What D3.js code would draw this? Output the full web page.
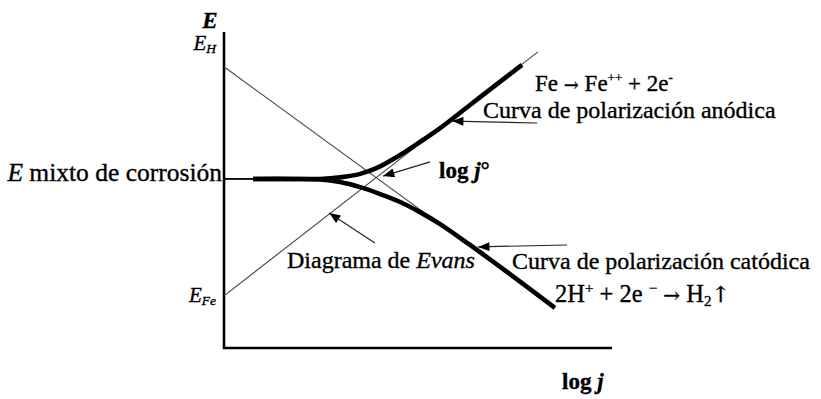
<!DOCTYPE html>
<html><head><meta charset="utf-8">
<script src="https://cdn.jsdelivr.net/npm/d3@7"></script>
<style>
body{margin:0;background:#fff}
text{font-family:"Liberation Serif","Times New Roman",serif;fill:#000;stroke:#000;stroke-width:0.35px}
.arrowglyph{font-family:"DejaVu Serif",serif}
</style>
</head><body>
<svg id="chart" width="821" height="399"></svg>
<script>
// Potential levels marked on the E axis
const potentialNames = ["E_H", "E_Fe", "E_mix"];
const potentialValues = [8.9, 1.65, 5.35];

// Evans diagram: straight Tafel lines, [log j, E]
const evansAnodic = [[0, 1.65], [8.09, 9.37]];
const evansCathodic = [[0, 8.9], [8.53, 1.27]];

// Real polarization curves, [log j, E]
const commonBranch = [[0, 5.35], [0.75, 5.35]];
const anodicCurve = [[0.75, 5.35], [1.8, 5.35], [2.47, 5.35], [2.99, 5.40], [3.51, 5.51], [3.94, 5.70],
  [4.54, 6.11], [5.05, 6.52], [5.57, 6.96], [6.34, 7.69], [7.11, 8.42], [7.68, 8.96]];
const cathodicCurve = [[0.75, 5.35], [1.8, 5.35], [2.47, 5.33], [2.99, 5.25], [3.51, 5.09], [3.94, 4.91],
  [4.54, 4.62], [5.05, 4.30], [5.57, 3.92], [6.34, 3.26], [7.37, 2.34], [8.53, 1.27]];

// Pointer arrows: [from, to] in [log j, E]
const arrowAnodic = [[8.07, 7.12], [5.88, 7.18]];
const arrowCathodic = [[8.84, 3.26], [6.55, 3.20]];
const arrowEvans = [[3.89, 3.32], [2.71, 4.27]];
const arrowExchange = [[5.31, 5.89], [4.10, 5.44]];

const svg = d3.select("#chart");
const x = d3.scaleLinear().domain([0, 10]).range([224, 612]);
const y = d3.scaleLinear().domain([0, 10]).range([348, 32]);
const E = name => potentialValues[potentialNames.indexOf(name)];

svg.append("defs").append("marker")
  .attr("id", "head").attr("viewBox", "0 0 10 8")
  .attr("refX", 10).attr("refY", 4)
  .attr("markerWidth", 12).attr("markerHeight", 9)
  .attr("markerUnits", "userSpaceOnUse").attr("orient", "auto")
  .append("path").attr("d", "M0,0 L10,4 L0,8 Z").attr("fill", "#000");

// Axes: a bare L frame, no ticks
svg.append("path")
  .attr("d", `M${x(0)},${y(10)} L${x(0)},${y(0)} L${x(10)},${y(0)}`)
  .attr("fill", "none").attr("stroke", "#000").attr("stroke-width", 2.6);

const line = d3.line().x(d => x(d[0])).y(d => y(d[1]));
const smooth = d3.line().x(d => x(d[0])).y(d => y(d[1])).curve(d3.curveCatmullRom.alpha(0.5));

// Evans lines
[evansAnodic, evansCathodic].forEach(pts => {
  svg.append("path").attr("d", line(pts))
    .attr("fill", "none").attr("stroke", "#444").attr("stroke-width", 1.1);
});

// Mixed-potential branch before the split
svg.append("path").attr("d", line(commonBranch))
  .attr("fill", "none").attr("stroke", "#000").attr("stroke-width", 1.8);

// Polarization curves
[anodicCurve, cathodicCurve].forEach(pts => {
  svg.append("path").attr("d", smooth(pts))
    .attr("fill", "none").attr("stroke", "#000").attr("stroke-width", 4.6)
    .attr("stroke-linejoin", "round");
});

// Pointers
[arrowAnodic, arrowCathodic, arrowEvans, arrowExchange].forEach(pts => {
  svg.append("path").attr("d", line(pts))
    .attr("fill", "none").attr("stroke", "#222").attr("stroke-width", 1.2)
    .attr("marker-end", "url(#head)");
});

// Axis titles
svg.append("text").attr("x", x(0) - 14).attr("y", 28).attr("text-anchor", "middle")
  .attr("font-size", 23).attr("font-weight", "bold").attr("font-style", "italic").text("E");

const logj = svg.append("text").attr("x", 562).attr("y", 389)
  .attr("font-size", 23).attr("font-weight", "bold");
logj.append("tspan").text("log ");
logj.append("tspan").attr("font-style", "italic").text("j");

// Potential labels
function subLabel(name, sub, val, dy) {
  const t = svg.append("text").attr("x", x(0) - 8).attr("y", y(val) + dy)
    .attr("text-anchor", "end").attr("font-size", 21).attr("font-style", "italic");
  t.append("tspan").text(name);
  t.append("tspan").attr("font-size", 13.5).attr("dy", 3).text(sub);
}
subLabel("E", "H", E("E_H"), -17);
subLabel("E", "Fe", E("E_Fe"), 6);

const mix = svg.append("text").attr("x", x(0) - 2).attr("y", y(E("E_mix")) + 2)
  .attr("text-anchor", "end").attr("font-size", 25.5);
mix.append("tspan").attr("font-style", "italic").text("E");
mix.append("tspan").text(" mixto de corrosión");

// Annotations
const fe = svg.append("text").attr("x", 535).attr("y", 91).attr("font-size", 23);
fe.append("tspan").text("Fe ");
fe.append("tspan").attr("class", "arrowglyph").attr("font-size", 18).text("→");
fe.append("tspan").text(" Fe");
fe.append("tspan").attr("font-size", 13).attr("dy", -9).text("++");
fe.append("tspan").attr("dy", 9).text(" + 2e");
fe.append("tspan").attr("font-size", 13).attr("dy", -9).text("-");

svg.append("text").attr("x", 483).attr("y", 118).attr("font-size", 24)
  .text("Curva de polarización anódica");

const j0 = svg.append("text").attr("x", 439).attr("y", 178).attr("font-size", 23).attr("font-weight", "bold");
j0.append("tspan").text("log ");
j0.append("tspan").attr("font-style", "italic").text("j");
j0.append("tspan").text("°");

const ev = svg.append("text").attr("x", 287).attr("y", 268).attr("font-size", 24);
ev.append("tspan").text("Diagrama de ");
ev.append("tspan").attr("font-style", "italic").text("Evans");

svg.append("text").attr("x", 512).attr("y", 269).attr("font-size", 24)
  .text("Curva de polarización catódica");

const h2 = svg.append("text").attr("x", 555).attr("y", 302).attr("font-size", 24.5);
h2.append("tspan").text("2H");
h2.append("tspan").attr("font-size", 15).attr("dy", -9).text("+");
h2.append("tspan").attr("dy", 9).text(" + 2e ");
h2.append("tspan").attr("font-size", 15).attr("dy", -9).text("−");
h2.append("tspan").attr("dy", 9).text(" ");
h2.append("tspan").attr("class", "arrowglyph").attr("font-size", 20).text("→");
h2.append("tspan").text(" H");
h2.append("tspan").attr("font-size", 15).attr("dy", 4).text("2");
h2.append("tspan").attr("dy", -4).attr("class", "arrowglyph").attr("font-size", 22).text("↑");
</script>
</body></html>
